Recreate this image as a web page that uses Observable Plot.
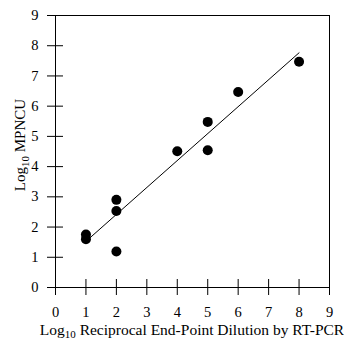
<!DOCTYPE html>
<html>
<head>
<meta charset="utf-8">
<script src="https://cdn.jsdelivr.net/npm/d3@7"></script>
<script src="https://cdn.jsdelivr.net/npm/@observablehq/plot@0.6"></script>
<style>
  html, body { margin: 0; padding: 0; background: white; }
  svg text { font-family: "Liberation Serif", "Times New Roman", serif !important; }
</style>
</head>
<body>
<div id="chart"></div>
<script>
const xTicks = [0, 1, 2, 3, 4, 5, 6, 7, 8, 9];
const yTicks = [0, 1, 2, 3, 4, 5, 6, 7, 8, 9];
const dilution = [1, 1, 2, 2, 2, 4, 5, 5, 6, 8];
const mpncu = [1.75, 1.6, 2.9, 2.53, 1.19, 4.51, 5.48, 4.54, 6.47, 7.47];

const data = dilution.map((x, i) => ({x, y: mpncu[i]}));
const serif = "Liberation Serif";

const chart = Plot.plot({
  width: 344,
  height: 340,
  marginLeft: 55,
  marginRight: 15,
  marginTop: 15,
  marginBottom: 53,
  x: {domain: [0, 9]},
  y: {domain: [0, 9]},
  style: {fontFamily: serif, fontSize: "14px", color: "black", background: "white"},
  marks: [
    Plot.frame({stroke: "black", strokeWidth: 1}),
    Plot.axisX(xTicks, {tickSize: 16, dy: -8, tickPadding: 11, label: null, fontSize: 14.5, fontFamily: serif}),
    Plot.axisY(yTicks, {tickSize: 16, dx: 8, tickPadding: 9, label: null, fontSize: 14.5, fontFamily: serif}),
    Plot.linearRegressionY(data, {x: "x", y: "y", ci: 0, stroke: "black", strokeWidth: 1}),
    Plot.dot(data, {x: "x", y: "y", r: 5, fill: "black", stroke: "none"})
  ]
});

const svg = d3.select(chart);
svg.selectAll("text").attr("font-family", serif).style("font-family", serif).style("font-variant", "normal");

const xt = svg.append("text")
  .attr("x", 192).attr("y", 335)
  .attr("text-anchor", "middle")
  .attr("font-family", serif)
  .attr("font-size", 15.5)
  .attr("fill", "black");
xt.append("tspan").text("Log");
xt.append("tspan").attr("font-size", 11).attr("dy", 3).text("10");
xt.append("tspan").attr("dy", -3).text(" Reciprocal End-Point Dilution by RT-PCR");

const yt = svg.append("text")
  .attr("transform", "translate(25,145) rotate(-90)")
  .attr("text-anchor", "middle")
  .attr("font-family", serif)
  .attr("font-size", 15)
  .attr("fill", "black");
yt.append("tspan").text("Log");
yt.append("tspan").attr("font-size", 11).attr("dy", 4).text("10");
yt.append("tspan").attr("dy", -4).text(" MPNCU");

document.getElementById("chart").appendChild(chart);
</script>
</body>
</html>
